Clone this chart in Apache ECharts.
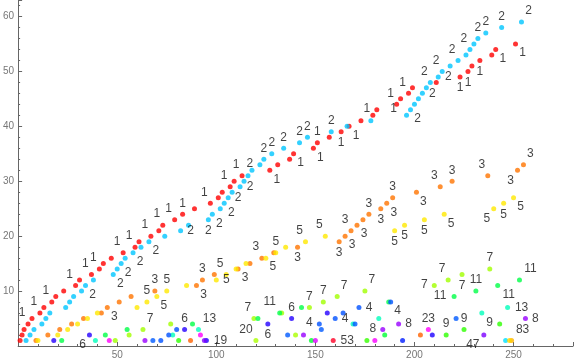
<!DOCTYPE html>
<html><head><meta charset="utf-8">
<script src="https://cdn.jsdelivr.net/npm/echarts@6/dist/echarts.min.js"></script>
<style>html,body{margin:0;padding:0;background:#fff}#c{width:576px;height:363px}</style>
</head><body><div id="c"></div>
<script>
// ---- tick labels ----
const xTickLabels = [50,100,150,200,250];
const yTickLabels = [10,20,30,40,50,60];
// ---- rank (y value) of each point within its class ----
const ranks = [1,2,3,4,5,6,7,8,9,10,11,12,13,14,15,16,17,18,19,20,21,22,23,24,25,26,27,28,29,30,
  31,32,33,34,35,36,37,38,39,40,41,42,43,44,45,46,47,48,49,50,51,52,53,54,55,56,57,58,59];
// ---- class labels and their x values ----
const classLabels = [1,2,3,5,7,11,13,4,6,8,9,17,19,20,23,29,37,47,53,83,97,75,36,22,41,31];
const x_1 = [1,2,3,5,7,11,13,17,19,23,29,31,37,41,43,47,53,59,61,67,71,73,79,83,89,97,101,103,107,109,113,127,131,137,139,149,151,157,163,167,173,179,181,191,193,197,199,211,223,227,229,233,239,241,251];
const x_2 = [4,6,8,12,14,16,24,26,28,32,34,38,48,50,52,54,58,62,66,74,82,86,96,98,102,104,106,108,112,114,116,118,122,124,128,134,142,146,158,166,178,196,198,200,202,204,206,208,212,214,218,222,226,228,230,232,236,244,254];
const x_3 = [9,15,21,27,33,42,45,51,57,69,90,93,99,111,117,123,129,141,162,165,168,171,174,177,183,186,189,201,213,219,237,252,255];
const x_5 = [10,20,25,30,35,40,60,65,70,75,85,100,105,110,115,125,130,135,145,155,190,195,205,215,240,245,250];
const x_7 = [49,56,63,77,119,133,147,154,161,175,210,217,224,238];
const x_11 = [22,44,55,88,121,132,143,187,220,231,242,253];
const x_13 = [39,78,91,169,182,234,247];
const x_4 = [72,76,80,152,160,164,172,188];
const x_6 = [18,36,84,126,138,156];
const x_8 = [64,144,184,192,256];
const x_9 = [81,216,225,243];
const x_17 = [68,136,153,170,221];
const x_19 = [95,209];
const x_20 = [120,140];
const x_23 = [46,92,207];
const x_29 = [87,203];
const x_37 = [148,185];
const x_47 = [94,235];
const x_53 = [159];
const x_83 = [249];
const x_97 = [194];
const x_75 = [150];
const x_36 = [180];
const x_22 = [176];
const x_41 = [246];
const x_31 = [248];
const classX = {1:x_1,2:x_2,3:x_3,5:x_5,7:x_7,11:x_11,13:x_13,4:x_4,6:x_6,8:x_8,9:x_9,17:x_17,19:x_19,20:x_20,23:x_23,29:x_29,37:x_37,47:x_47,53:x_53,83:x_83,97:x_97,75:x_75,36:x_36,22:x_22,41:x_41,31:x_31};
// ---- which points carry a text label (x value, placement) ----
const lab_1 = [[5,'ul'],[11,'ul'],[17,'ul'],[29,'ul'],[37,'ul'],[41,'ul'],[53,'ul'],[59,'ul'],[67,'ul'],[73,'ul'],[79,'ul'],[83,'u'],[97,'ul'],[107,'ul'],[113,'ul'],[127,'dr'],[139,'dr'],[149,'dr'],[151,'u'],[163,'d'],[167,'dr'],[181,'l'],[191,'ul'],[193,'dl'],[197,'ul'],[223,'d'],[227,'d'],[233,'d'],[241,'dr'],[251,'dr']];
const lab_2 = [[34,'dr'],[48,'dr'],[52,'dr'],[58,'dr'],[66,'dr'],[82,'r'],[96,'d'],[98,'dr'],[104,'dr'],[106,'r'],[112,'r'],[122,'l'],[124,'u'],[128,'u'],[134,'u'],[142,'u'],[146,'u'],[158,'u'],[198,'dr'],[204,'r'],[208,'ul'],[212,'r'],[214,'ul'],[222,'ul'],[228,'ul'],[232,'u'],[236,'u'],[244,'u'],[254,'ur']];
const lab_3 = [[45,'dr'],[69,'u'],[90,'dr'],[93,'u'],[111,'dr'],[123,'ul'],[141,'d'],[162,'d'],[165,'dr'],[168,'ul'],[171,'dr'],[177,'u'],[183,'d'],[186,'dr'],[189,'u'],[201,'dr'],[213,'ul'],[219,'u'],[237,'ul'],[252,'dl'],[255,'ur']];
const lab_5 = [[65,'u'],[70,'dr'],[75,'u'],[100,'r'],[105,'ul'],[125,'dr'],[130,'u'],[145,'ul'],[155,'ul'],[190,'d'],[195,'d'],[205,'d'],[215,'dr'],[240,'dl'],[245,'d'],[250,'dr']];
const lab_7 = [[63,'ur'],[119,'ul'],[147,'u'],[154,'u'],[161,'ur'],[175,'ur'],[210,'l'],[217,'ul'],[224,'d'],[238,'u']];
const lab_11 = [[132,'ul'],[220,'l'],[231,'u'],[242,'dr'],[253,'ur']];
const lab_13 = [[91,'ur'],[247,'r']];
const lab_6 = [[36,'dl'],[84,'u'],[126,'d'],[138,'u']];
const lab_4 = [[152,'l'],[160,'r'],[172,'r'],[188,'dr']];
const lab_8 = [[184,'l'],[192,'r'],[256,'r']];
const lab_9 = [[216,'u'],[225,'u'],[243,'l']];
const lab_19 = [[95,'r']];
const lab_20 = [[120,'ul']];
const lab_23 = [[207,'u']];
const lab_47 = [[235,'dl']];
const lab_53 = [[159,'r']];
const lab_83 = [[249,'ur']];
const classLab = {1:lab_1,2:lab_2,3:lab_3,5:lab_5,7:lab_7,11:lab_11,13:lab_13,6:lab_6,4:lab_4,8:lab_8,9:lab_9,19:lab_19,20:lab_20,23:lab_23,47:lab_47,53:lab_53,83:lab_83};

// ---- styling ----
const OFF = {ul:[-6,-11],ur:[7,-11],u:[0,-11],dl:[-7,10],dr:[7,9],d:[0,11],l:[-10,-1],r:[10,0]};
function hsv(h){const i=Math.floor(h*6),f=h*6-i,q=1-f;let r,g,b;
  switch(i%6){case 0:r=1;g=f;b=0;break;case 1:r=q;g=1;b=0;break;case 2:r=0;g=1;b=f;break;
  case 3:r=0;g=q;b=1;break;case 4:r=f;g=0;b=1;break;default:r=1;g=0;b=q;}
  return 'rgb('+Math.round(r*255)+','+Math.round(g*255)+','+Math.round(b*255)+')';}
function classColor(k){let h=((k-1)*0.538)%1;return hsv(h);}

const series = classLabels.map(k=>{
  const xs = classX[k];
  const labs = {};
  (classLab[k]||[]).forEach(([x,c])=>{labs[x]=c;});
  const wide = String(k).length>1 ? 4 : 0;
  return {type:'scatter', symbolSize:5, itemStyle:{color:classColor(k)},
    data: xs.map((x,i)=>{
      const it = {value:[x, ranks[i]]};
      if (labs[x]){
        const o = OFF[labs[x]].slice();
        if (labs[x].indexOf('l')>=0) o[0]-=wide;
        if (labs[x].indexOf('r')>=0) o[0]+=wide;
        it.label = {show:true, position:'inside', offset:o};
      }
      return it;
    }),
    label:{show:false, formatter:String(k), color:'#111', fontSize:12, fontFamily:'Liberation Sans'},
    z: 2};
});

const chart = echarts.init(document.getElementById('c'));
const axisCol = '#666';
chart.setOption({
  animation:false,
  grid:{left:16,right:0,top:0,bottom:17},
  xAxis:[
    {type:'value',min:0,max:280,interval:50,
     axisLine:{lineStyle:{color:axisCol}},
     axisTick:{inside:true,length:4,lineStyle:{color:axisCol}},
     axisLabel:{color:'#777',fontSize:10,fontFamily:'Liberation Sans',margin:4,
       formatter:v=>xTickLabels.includes(v)?String(v):''},
     splitLine:{show:false}},
    {type:'value',min:0,max:280,interval:10,position:'bottom',
     axisLine:{show:false},axisTick:{inside:true,length:2,lineStyle:{color:axisCol}},
     axisLabel:{show:false},splitLine:{show:false}}
  ],
  yAxis:[
    {type:'value',min:0,max:63,interval:10,
     axisLine:{lineStyle:{color:axisCol}},
     axisTick:{inside:true,length:4,lineStyle:{color:axisCol}},
     axisLabel:{color:'#777',fontSize:10,fontFamily:'Liberation Sans',margin:4,
       formatter:v=>yTickLabels.includes(v)?String(v):''},
     splitLine:{show:false}},
    {type:'value',min:0,max:63,interval:2,position:'left',
     axisLine:{show:false},axisTick:{inside:true,length:2,lineStyle:{color:axisCol}},
     axisLabel:{show:false},splitLine:{show:false}}
  ],
  series: series
});
</script></body></html>
